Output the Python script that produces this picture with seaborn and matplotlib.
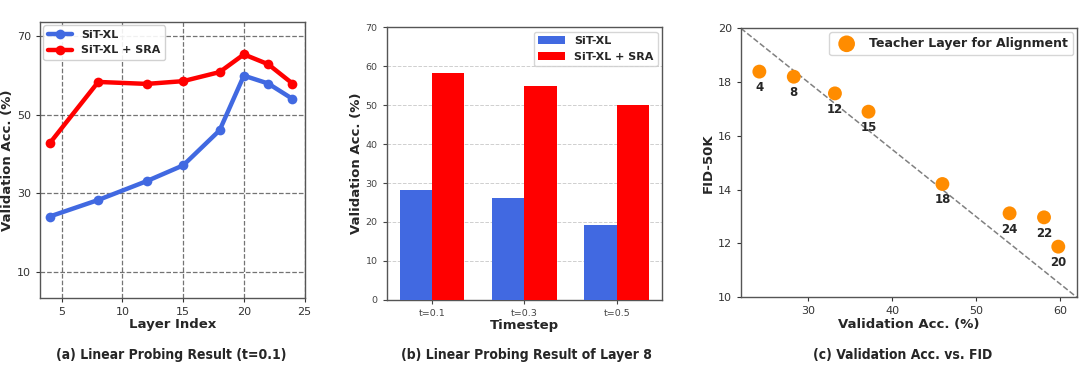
import numpy as np
import pandas as pd
import matplotlib
matplotlib.use("Agg")
import matplotlib.pyplot as plt
import seaborn as sns

sns.set_style("white")
plt.rcParams['font.family'] = ['DejaVu Sans']

# (a) linear probing over layers, t=0.1
layers = [4, 8, 12, 15, 18, 20, 22, 24]
acc_sit = [24.1, 28.3, 33.1, 37.1, 46.0, 59.9, 57.9, 54.0]
acc_sra = [42.7, 58.3, 57.8, 58.5, 60.8, 65.3, 62.8, 57.9]

# (b) layer 8 over timesteps
timesteps = ['t=0.1', 't=0.3', 't=0.5']
bar_sit = [28.2, 26.1, 19.2]
bar_sra = [58.2, 54.9, 50.0]

# (c) validation acc vs FID per teacher layer
teacher_layers = ['4', '8', '12', '15', '18', '24', '22', '20']
val_acc = [24.2, 28.3, 33.2, 37.2, 46.0, 54.0, 58.1, 59.8]
fid = [18.39, 18.2, 17.58, 16.9, 14.21, 13.12, 12.97, 11.88]

BLUE = '#4169E1'
RED = '#FF0000'
ORANGE = '#FF8C00'
SPINE = '#555555'

fig = plt.figure(figsize=(10.8, 3.88), dpi=100)
ax1 = fig.add_axes([0.037, 0.232, 0.245, 0.711])
ax2 = fig.add_axes([0.358, 0.227, 0.255, 0.703])
ax3 = fig.add_axes([0.686, 0.234, 0.311, 0.693])

for ax in (ax1, ax2, ax3):
    for s in ax.spines.values():
        s.set_color(SPINE)
        s.set_linewidth(1.0)

# ---- (a)
sns.lineplot(x=layers, y=acc_sit, ax=ax1, color=BLUE, lw=3.2, marker='o',
             markersize=7, markeredgewidth=0, label='SiT-XL')
sns.lineplot(x=layers, y=acc_sra, ax=ax1, color=RED, lw=3.2, marker='o',
             markersize=7, markeredgewidth=0, label='SiT-XL + SRA')
ax1.set_xlim(3.2, 25)
ax1.set_ylim(3.4, 73.5)
ax1.set_xticks([5, 10, 15, 20, 25])
ax1.set_yticks([10, 30, 50, 70])
ax1.grid(True, color='#444444', linestyle='--', linewidth=0.9, alpha=0.75)
ax1.tick_params(labelsize=8, colors='#333333', length=3, left=True, bottom=True)
ax1.set_xlabel('Layer Index', fontsize=9.5, fontweight='bold', labelpad=1)
ax1.set_ylabel('Validation Acc. (%)', fontsize=9.5, fontweight='bold', labelpad=2)
ax1.legend(loc='upper left', prop={'weight': 'bold', 'size': 8}, handlelength=2.2,
           borderaxespad=0.3, framealpha=0.9)

# ---- (b)
df_b = pd.DataFrame({
    'Timestep': timesteps * 2,
    'acc': bar_sit + bar_sra,
    'Model': ['SiT-XL'] * 3 + ['SiT-XL + SRA'] * 3,
})
sns.barplot(data=df_b, x='Timestep', y='acc', hue='Model', ax=ax2,
            palette=[BLUE, RED], width=0.7, gap=0, saturation=1,
            linewidth=0, edgecolor='none', zorder=3)
ax2.set_xlim(-0.49, 2.49)
ax2.set_ylim(0, 70)
ax2.set_yticks(range(0, 71, 10))
ax2.yaxis.grid(True, color='#bbbbbb', linestyle='--', linewidth=0.7, alpha=0.7, zorder=0)
ax2.set_axisbelow(True)
ax2.tick_params(labelsize=6.8, colors='#444444', length=3, left=True, bottom=True)
ax2.set_xlabel('Timestep', fontsize=9.5, fontweight='bold', labelpad=1)
ax2.set_ylabel('Validation Acc. (%)', fontsize=9.5, fontweight='bold', labelpad=2)
ax2.legend(loc='upper right', title=None, prop={'weight': 'bold', 'size': 8},
           borderaxespad=0.4, handlelength=2.4)

# ---- (c)
ax3.plot([22, 62], [20, 10], color='gray', linestyle='--', linewidth=1.1, zorder=1)
sns.scatterplot(x=val_acc, y=fid, ax=ax3, s=100, color=ORANGE, edgecolor='none',
                label='Teacher Layer for Alignment', zorder=3)
for x, y, t in zip(val_acc, fid, teacher_layers):
    ax3.annotate(t, (x, y), xytext=(0, -11.5), textcoords='offset points',
                 ha='center', va='center', fontsize=8.5, fontweight='bold')
ax3.set_xlim(22, 62)
ax3.set_ylim(10, 20)
ax3.set_xticks([30, 40, 50, 60])
ax3.set_yticks([10, 12, 14, 16, 18, 20])
ax3.tick_params(labelsize=8, colors='#333333', length=3, left=True, bottom=True)
ax3.set_xlabel('Validation Acc. (%)', fontsize=9.5, fontweight='bold', labelpad=1)
ax3.set_ylabel('FID-50K', fontsize=9.5, fontweight='bold', labelpad=2)
ax3.legend(loc='upper right', prop={'weight': 'bold', 'size': 9}, borderaxespad=0.3,
           markerscale=1.2)

# captions
cap = dict(fontsize=10, fontweight='bold', ha='center', va='center', fontstretch='condensed')
fig.text(171 / 1080, 1 - 355 / 388, '(a) Linear Probing Result (t=0.1)', **cap)
fig.text(526 / 1080, 1 - 355 / 388, '(b) Linear Probing Result of Layer 8', **cap)
fig.text(903 / 1080, 1 - 355 / 388, '(c) Validation Acc. vs. FID', **cap)

fig.savefig('out.png', dpi=100)
